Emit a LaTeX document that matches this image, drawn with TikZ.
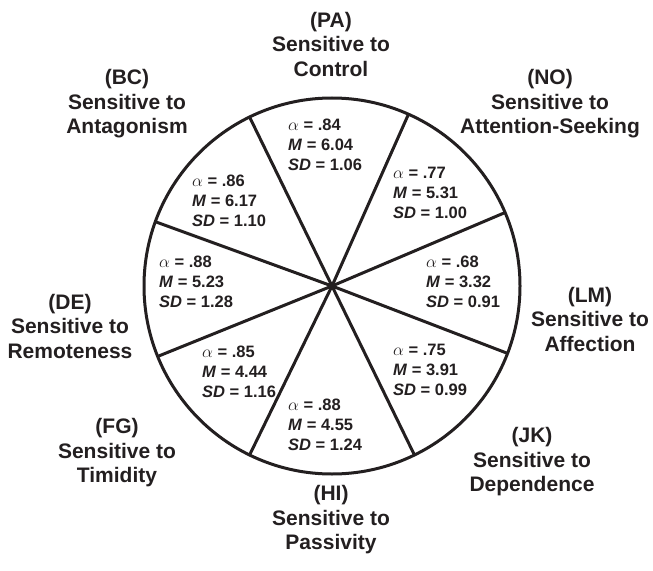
\documentclass[tikz,border=0pt]{standalone}
\usepackage{fontspec}
\setmainfont{Liberation Sans}
\definecolor{ink}{HTML}{231F20}
\begin{document}
\begin{tikzpicture}[x=1bp, y=-1bp, color=ink,
        trait/.style={align=center, inner sep=0pt,
            font=\bfseries\fontsize{21bp}{24.5bp}\selectfont},
        stats/.style={align=left, anchor=west, inner sep=0pt,
            font=\bfseries\fontsize{16.5bp}{20bp}\selectfont}]
        \useasboundingbox (0,0) rectangle (653,571);
        \coordinate (ctr) at (332,286);

        \draw[line width=3bp] (ctr) circle (188);
        \foreach \ang in {-23,-66,-116,-160,-202,-244,-296,-339} {
            \draw[line width=3bp] (ctr) -- ++(\ang:188);
        }

        \foreach \nm/\px/\py/\code/\what in {
            pa/331/44/PA/Control,
            no/550/104/NO/Attention-Seeking,
            lm/590/319/LM/Affection,
            jk/532/462/JK/Dependence,
            hi/331/520/HI/Passivity,
            fg/117/453/FG/Timidity,
            de/70/326/DE/Remoteness,
            bc/127/104/BC/Antagonism
        } {
            \node[trait] (\nm) at (\px,\py)
                {(\code)\\Sensitive to\\\what};
        }

        \foreach \nm/\px/\py/\al/\mean/\sd in {
            pa/288/145/.84/6.04/1.06,
            no/393/193/.77/5.31/1.00,
            lm/426/282/.68/3.32/0.91,
            jk/393/370/.75/3.91/0.99,
            hi/288/425/.88/4.55/1.24,
            fg/202/372/.85/4.44/1.16,
            de/159/282/.88/5.23/1.28,
            bc/192/201/.86/6.17/1.10
        } {
            \node[stats] (\nm-stats) at (\px,\py)
                {$\alpha$ = \al\\
                 \textit{M} = \mean\\
                 \textit{SD} = \sd};
        }
    \end{tikzpicture}
\end{document}
